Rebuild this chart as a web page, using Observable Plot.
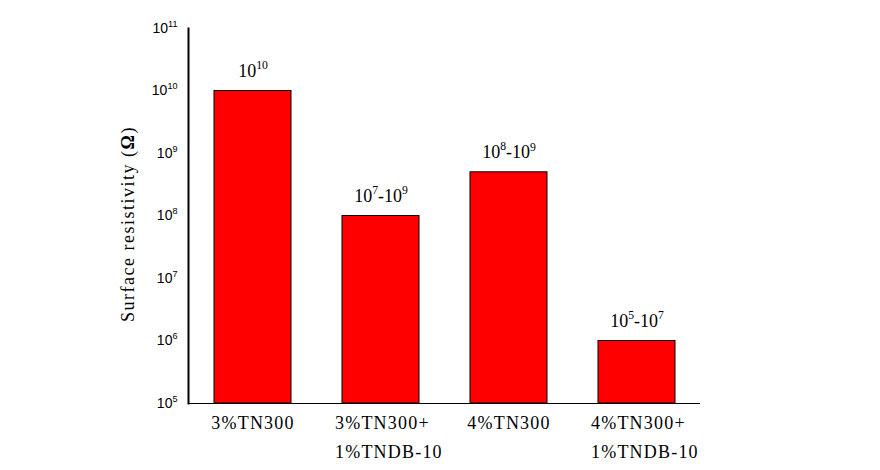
<!DOCTYPE html>
<html>
<head>
<meta charset="utf-8">
<script src="https://cdn.jsdelivr.net/npm/d3@7"></script>
<script src="https://cdn.jsdelivr.net/npm/@observablehq/plot@0.6"></script>
<style>
  html, body { margin: 0; padding: 0; background: #fff; }
</style>
</head>
<body>
<div id="chart"></div>
<script>
// ---- data ----
const categories = ["3%TN300", "3%TN300+\n1%TNDB-10", "4%TN300", "4%TN300+\n1%TNDB-10"];
const values = [1e10, 1e8, 5e8, 1e6];
const valueLabels = ["10^10", "10^7-10^9", "10^8-10^9", "10^5-10^7"];
const yTicks = [1e5, 1e6, 1e7, 1e8, 1e9, 1e10, 1e11];
const yLabel = "Surface resistivity (**Ω**)";

const data = categories.map((c, i) => ({ category: c, value: values[i], label: valueLabels[i] }));

const serif = "'Liberation Serif', 'Times New Roman', serif";
const sans = "'Liberation Sans', Arial, sans-serif";

const chart = Plot.plot({
  width: 880,
  height: 470,
  marginLeft: 188,
  marginRight: 180,
  marginTop: 28,
  marginBottom: 67,
  style: { background: "#fff", color: "#000" },
  x: { domain: categories, paddingInner: 0.4, paddingOuter: 0.2, axis: null },
  y: { type: "log", domain: [1e5, 1e11] },
  marks: [
    Plot.barY(data, { x: "category", y1: 1e5, y2: "value", fill: "#ff0000", stroke: "#000", strokeWidth: 1 }),
    Plot.ruleY([1e5], { stroke: "#000", strokeWidth: 1 }),
    Plot.frame({ anchor: "left", stroke: "#000", strokeWidth: 2 }),
    Plot.axisY({
      ticks: yTicks,
      tickSize: 0,
      tickPadding: 11,
      tickFormat: d => "10^" + Math.round(Math.log10(d)),
      fontFamily: sans,
      fontSize: 14,
      label: null
    }),
    Plot.text(data, {
      x: "category", y: "value", text: "label",
      textAnchor: "middle", lineAnchor: "bottom", dy: -14,
      fontFamily: serif, fontSize: 18, fill: "#000"
    }),
    Plot.text(data, {
      filter: d => !d.category.includes("\n"),
      x: "category", text: "category", frameAnchor: "bottom",
      textAnchor: "middle", lineAnchor: "top", dy: 13,
      fontFamily: serif, fontSize: 18, fill: "#000"
    }),
    Plot.text(data, {
      filter: d => d.category.includes("\n"),
      x: "category", text: "category", frameAnchor: "bottom",
      textAnchor: "start", lineAnchor: "top", dy: 5, dx: -46, lineHeight: 1.6,
      fontFamily: serif, fontSize: 18, fill: "#000"
    }),
    Plot.text([yLabel], {
      text: d => d, frameAnchor: "left", rotate: -90,
      textAnchor: "middle", lineAnchor: "middle", dx: -60, dy: 8,
      fontFamily: serif, fontSize: 18, fill: "#000"
    })
  ]
});

// ---- fonts per text group (in mark order) ----
const svg = d3.select(chart);
svg.selectAll('g[aria-label="y-axis tick label"]').style("font-family", sans);
const textGroups = chart.querySelectorAll('g[aria-label="text"]');
textGroups.forEach((g, i) => {
  g.style.fontFamily = serif;
  if (i === 1 || i === 2) g.style.letterSpacing = "1.2px";
  if (i === 3) g.style.letterSpacing = "1.5px";
});

// ---- rich text: superscripts (^n) and bold (**x**) as tspans ----
function decorate(textEl) {
  const s = textEl.textContent;
  if (!/\^|\*\*/.test(s)) return;
  const t = d3.select(textEl);
  textEl.textContent = "";
  const parts = s.split(/(\^\d+|\*\*[^*]+\*\*)/);
  let raised = false;
  parts.forEach(p => {
    if (!p) return;
    if (p.startsWith("^")) {
      t.append("tspan").attr("font-size", "0.65em").attr("dy", "-0.67em").text(p.slice(1));
      raised = true;
    } else {
      const ts = t.append("tspan");
      if (p.startsWith("**")) ts.attr("font-weight", "bold").text(p.slice(2, -2));
      else ts.text(p);
      if (raised) { ts.attr("dy", "0.44em"); raised = false; }
    }
  });
}
svg.selectAll("text").each(function () { decorate(this); });

document.getElementById("chart").appendChild(chart);
</script>
</body>
</html>
